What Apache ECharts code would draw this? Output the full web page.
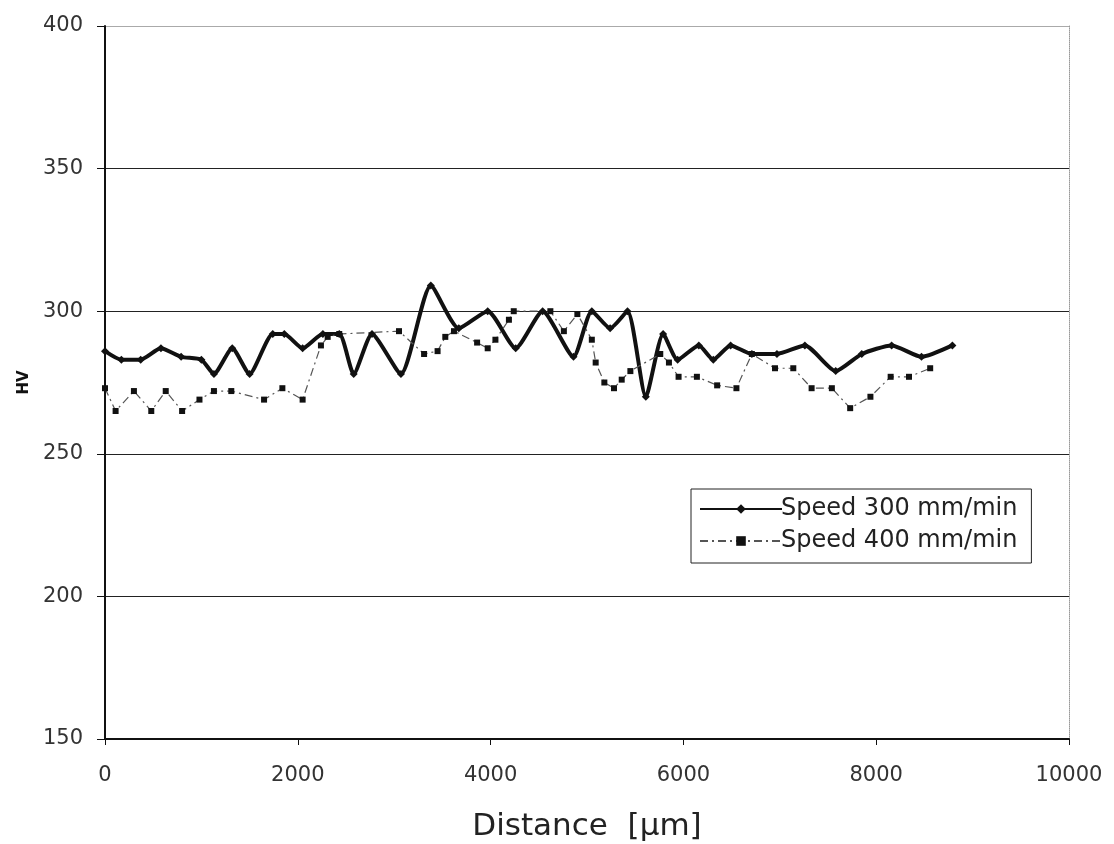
<!DOCTYPE html>
<html>
<head>
<meta charset="utf-8">
<script src="https://cdn.jsdelivr.net/npm/echarts@6/dist/echarts.min.js"></script>
<style>html,body{margin:0;padding:0;background:#fff}#c{width:1114px;height:844px}</style>
</head>
<body>
<div id="c"></div>
<script>
const seriesNames = ['Speed 300 mm/min', 'Speed 400 mm/min'];
const speed300 = [[0,286],[170,283],[370,283],[580,287],[790,284],[1000,283],[1130,278],[1320,287],[1500,278],[1740,292],[1860,292],[2050,287],[2260,292],[2430,292],[2580,278],[2770,292],[3070,278],[3380,309],[3670,294],[3970,300],[4260,287],[4540,300],[4860,284],[5050,300],[5240,294],[5420,300],[5610,270],[5790,292],[5940,283],[6160,288],[6310,283],[6490,288],[6710,285],[6970,285],[7260,288],[7580,279],[7850,285],[8160,288],[8470,284],[8790,288]];
const speed400 = [[0,273],[110,265],[300,272],[480,265],[630,272],[800,265],[980,269],[1130,272],[1310,272],[1650,269],[1840,273],[2050,269],[2240,288],[2310,291],[2430,292],[3050,293],[3310,285],[3450,286],[3530,291],[3620,293],[3860,289],[3970,287],[4050,290],[4190,297],[4240,300],[4620,300],[4760,293],[4900,299],[5050,290],[5090,282],[5180,275],[5280,273],[5360,276],[5450,279],[5760,285],[5850,282],[5950,277],[6140,277],[6350,274],[6550,273],[6710,285],[6950,280],[7140,280],[7330,273],[7540,273],[7730,266],[7940,270],[8150,277],[8340,277],[8560,280]];
const xMin = 0, xMax = 10000, xStep = 2000;
const yMin = 150, yMax = 400, yStep = 50;

const font = 'DejaVu Sans, Liberation Sans, Arial, sans-serif';
const chart = echarts.init(document.getElementById('c'), null, {renderer: 'canvas'});
chart.setOption({
  animation: false,
  backgroundColor: '#fff',
  grid: {left: 105, right: 45, top: 26, bottom: 105, containLabel: false, outerBoundsMode: 'none'},
  legend: {
    orient: 'vertical', left: 691, top: 489,
    data: seriesNames,
    borderColor: '#222', borderWidth: 1, padding: [8, 14, 10, 8],
    itemWidth: 82, itemHeight: 12, itemGap: 8,
    textStyle: {fontFamily: font, fontSize: 24, color: '#222', padding: [0, 0, 0, -6]}
  },
  xAxis: {
    type: 'value', min: xMin, max: xMax, interval: xStep,
    name: 'Distance  [µm]', nameLocation: 'middle', nameGap: 72,
    nameTextStyle: {fontFamily: font, fontSize: 31, color: '#222'},
    axisLine: {show: true, onZero: false, lineStyle: {color: '#111', width: 2}},
    axisTick: {show: true, length: 6, inside: false, lineStyle: {color: '#111'}},
    axisLabel: {fontFamily: font, fontSize: 21, color: '#333', margin: 26, formatter: v => String(v)},
    splitLine: {show: false}
  },
  yAxis: [{
    type: 'value', min: yMin, max: yMax, interval: yStep,
    name: 'HV', nameLocation: 'middle', nameGap: 68, nameRotate: 90,
    nameTextStyle: {fontFamily: font, fontSize: 15, fontWeight: 'bold', color: '#111'},
    axisLine: {show: true, lineStyle: {color: '#111', width: 2}},
    axisTick: {show: true, length: 8, lineStyle: {color: '#111'}},
    axisLabel: {fontFamily: font, fontSize: 21, color: '#333', margin: 22, formatter: v => String(v)},
    splitLine: {show: true, lineStyle: {color: ['#111', '#222', '#222', '#222', '#222', '#aaa'], width: 1}}
  }, {
    type: 'value', min: yMin, max: yMax, interval: yStep, position: 'right',
    axisLine: {show: true, lineStyle: {color: '#999', width: 1, type: 'dotted'}},
    axisTick: {show: false}, axisLabel: {show: false}, splitLine: {show: false}
  }],
  series: [{
    name: seriesNames[0], type: 'line', data: speed300, smooth: 0.2,
    symbol: 'diamond', symbolSize: 8, showSymbol: true,
    lineStyle: {color: '#111', width: 4},
    itemStyle: {color: '#111'}
  }, {
    name: seriesNames[1], type: 'line', data: speed400, smooth: false,
    symbol: 'rect', symbolSize: 6, showSymbol: true,
    lineStyle: {color: '#555', width: 1.2, type: [8, 4, 2, 4]},
    itemStyle: {color: '#111'}
  }]
});
</script>
</body>
</html>
